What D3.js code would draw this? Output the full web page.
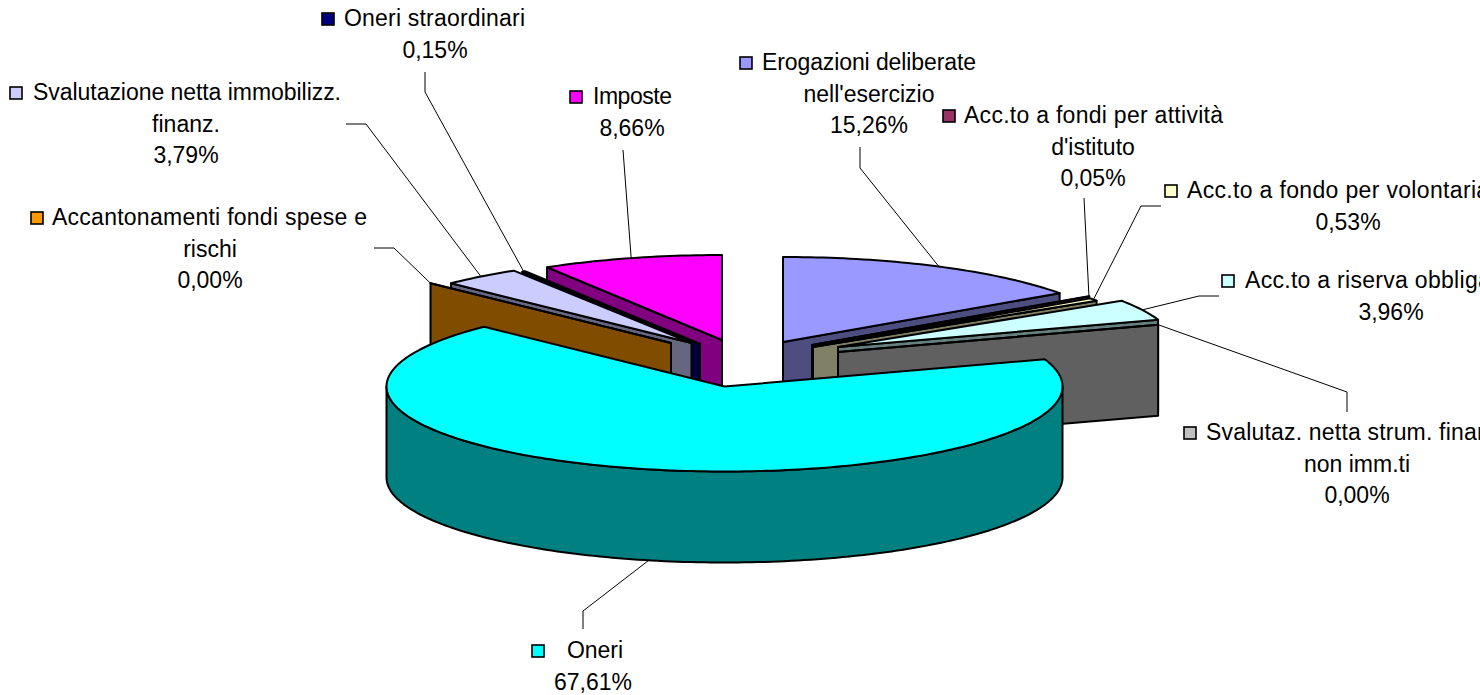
<!DOCTYPE html>
<html>
<head>
<meta charset="utf-8">
<script src="https://cdn.jsdelivr.net/npm/d3@7/dist/d3.min.js"></script>
<style>
html,body{margin:0;padding:0;background:#fff;overflow:hidden}
svg{display:block}
text{font-family:"Liberation Sans",Arial,sans-serif;font-size:23px;fill:#000}
</style>
</head>
<body>
<svg id="chart" width="1480" height="695"></svg>
<script>
// ---- data ----
const categories = ["Erogazioni deliberate nell'esercizio","Acc.to a fondi per attività d'istituto","Acc.to a fondo per volontariato","Acc.to a riserva obbligatoria","Svalutaz. netta strum. finanz. non imm.ti","Oneri","Accantonamenti fondi spese e rischi","Svalutazione netta immobilizz. finanz.","Oneri straordinari","Imposte"];
const values = [15.26,0.05,0.53,3.96,0.00,67.61,0.00,3.79,0.15,8.66];
const labelLines = [
  ["Erogazioni deliberate","nell'esercizio"],
  ["Acc.to a fondi per attività","d'istituto"],
  ["Acc.to a fondo per volontariato"],
  ["Acc.to a riserva obbligatoria"],
  ["Svalutaz. netta strum. finanz.","non imm.ti"],
  ["Oneri"],
  ["Accantonamenti fondi spese e","rischi"],
  ["Svalutazione netta immobilizz.","finanz."],
  ["Oneri straordinari"],
  ["Imposte"]
];
// ---- styling ----
const topColors  = ["#9999FF","#993366","#FFFFCC","#CCFFFF","#C0C0C0","#00FFFF","#FF9900","#CCCCFF","#000080","#FF00FF"];
const wallColors = ["#4D4D80","#4D1A33","#808066","#668080","#606060","#008080","#804D00","#666680","#000040","#800080"];
// ---- layout ----
const explodeX = [783,812,813,838,838,724.5,671,691.5,700,722];
const explodeY = [342,345,347,347,352,386.5,343,343,344,340];
const labelCenter = [869,1093,1348,1391,1357,593,210,186,435,632];
const firstLineCenter = [869,1093.5,1348,1391,1357,595,209.5,187,434.5,632.5];
const firstLineWidth = [214,259,322,292,302,56,315,308,181,79];
const labelBaseline = [70,123,198,288,440,658,225,100,26,104];
const keyX = [740,943,1165,1222,1184,532,31,10,322,570];
const leaderElbows = [
  [[860,147],[860,168]],
  [[1084,198]],
  [[1161,206],[1141,206]],
  [[1219,296],[1199,296]],
  [[1347,412],[1347,392]],
  [[583,629],[583,611]],
  [[374,248],[394,248]],
  [[346,124],[366,124]],
  [[425,72],[425,92]],
  [[623,150]]
];
const radiusX = 338, radiusY = 85, wallHeight = 91, lineGap = 31.5;

const sx = d3.scaleLinear().domain([-1,1]).range([-radiusX,radiusX]);
const sy = d3.scaleLinear().domain([-1,1]).range([radiusY,-radiusY]);
const fmt = v => d3.format(".2f")(v).replace(".",",");

const arcs = d3.pie().sort(null).value(d=>d)(values).map((a,i)=>({
  ...a, i,
  mid:(a.startAngle+a.endAngle)/2,
  ax:explodeX[i], ay:explodeY[i]
}));
const rim = (s,t,h=0)=>[s.ax+sx(Math.sin(t)), s.ay+sy(Math.cos(t))+h];
const apex = (s,h=0)=>[s.ax,s.ay+h];
const samples = (a,b)=>{const n=Math.max(1,Math.ceil((b-a)/0.02));return d3.range(n+1).map(k=>a+(b-a)*k/n);};
const line = d3.line();
const svg = d3.select("#chart");
const pie = svg.append("g").attr("stroke","#000").attr("stroke-width",2).attr("stroke-linejoin","round");
const area = (pts,fill)=>pie.append("path").attr("d",line(pts)+"Z").attr("fill",fill);

// back-to-front
[...arcs].sort((a,b)=>Math.cos(b.mid)-Math.cos(a.mid)).forEach(s=>{
  const wall = wallColors[s.i];
  if(s.endAngle<=Math.PI){
    area([apex(s),rim(s,s.endAngle),rim(s,s.endAngle,wallHeight),apex(s,wallHeight)],wall);
  } else if(s.startAngle>=Math.PI){
    area([apex(s),rim(s,s.startAngle),rim(s,s.startAngle,wallHeight),apex(s,wallHeight)],wall);
  }
  const a0=Math.max(s.startAngle,Math.PI/2), a1=Math.min(s.endAngle,Math.PI*1.5);
  if(a1>a0){
    const ts=samples(a0,a1);
    area([...ts.map(t=>rim(s,t)),...ts.slice().reverse().map(t=>rim(s,t,wallHeight))],wall);
  }
  area([apex(s),...samples(s.startAngle,s.endAngle).map(t=>rim(s,t))],topColors[s.i]);
});

// leaders
const leaders = svg.append("g").attr("fill","none").attr("stroke","#000").attr("stroke-width",1);
arcs.forEach(s=>{
  const h = Math.cos(s.mid)<0 ? wallHeight : 0;
  leaders.append("path").attr("d",line([...leaderElbows[s.i],rim(s,s.mid,h)]));
});

// labels
const labels = svg.append("g");
arcs.forEach(s=>{
  const i=s.i, lines=labelLines[i], base=labelBaseline[i];
  labels.append("text").attr("x",firstLineCenter[i]).attr("y",base).attr("text-anchor","middle")
    .attr("textLength",firstLineWidth[i]).attr("lengthAdjust","spacing").text(lines[0]);
  labels.append("rect").attr("x",keyX[i]).attr("y",base-13).attr("width",12).attr("height",12)
    .attr("fill",topColors[i]).attr("stroke","#000").attr("stroke-width",1.6);
  lines.slice(1).forEach((t,k)=>labels.append("text").attr("x",labelCenter[i]).attr("y",base+lineGap*(k+1)).attr("text-anchor","middle").text(t));
  labels.append("text").attr("x",labelCenter[i]).attr("y",base+lineGap*lines.length).attr("text-anchor","middle").text(fmt(values[i])+"%");
});
</script>
</body>
</html>
